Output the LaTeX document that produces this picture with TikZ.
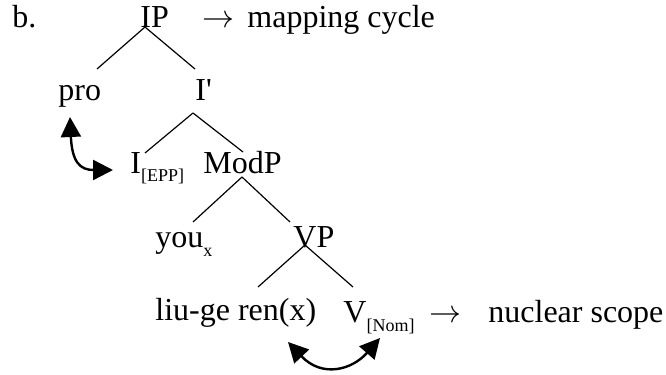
\RequirePackage{fix-cm}
\documentclass[tikz,border=0pt]{standalone}
\usepackage{fontspec}
\setmainfont{Liberation Serif}
\usetikzlibrary{arrows.meta,calc}
\newcommand{\lowsub}[1]{\raisebox{-4.5pt}{\fontsize{9}{9}\selectfont #1}}
\tikzset{
  word/.style={anchor=base west, inner sep=0pt, font=\fontsize{16}{19}\selectfont},
  branch/.style={line width=0.6pt},
  move/.style={line width=1.2pt, {Triangle[length=10pt,width=10pt]}-{Triangle[length=10pt,width=10pt]}}
}
\begin{document}
\begin{tikzpicture}[x=0.5pt, y=-0.5pt]
\useasboundingbox (0,0) rectangle (666,375);
% words of the tree
\node[word] (lab) at (12,27) {b.};
\node[word] (IP) at (140,27) {IP};
\node[word] (arrA) at (202,27) {$\rightarrow$};
\node[word] (cycle) at (247,27) {mapping cycle};
\node[word] (pro) at (58,100) {pro};
\node[word] (Ibar) at (195,100) {I\textquotesingle};
\node[word] (Iepp) at (130,173) {I\lowsub{[EPP]}};
\node[word] (ModP) at (203,173) {ModP};
\node[word] (you) at (155,248) {you\lowsub{x}};
\node[word] (VP) at (293,248) {VP};
\node[word] (liu) at (155,321) {liu-ge ren(x)};
\node[word] (Vnom) at (343,322) {V\lowsub{[Nom]}};
\node[word] (arrB) at (429,322) {$\rightarrow$};
\node[word] (scope) at (488,322) {nuclear scope};
% branches
\draw[branch] ($(IP.base west)+(5,0)$) -- ($(pro.base west)+(39,-31)$);
\draw[branch] ($(IP.base west)+(5,0)$) -- ($(Ibar.base west)+(0,-31)$);
\draw[branch] ($(Ibar.base west)+(-2,13)$) -- ($(Iepp.base west)+(15,-20)$);
\draw[branch] ($(Ibar.base west)+(-2,13)$) -- ($(ModP.base west)+(40,-21)$);
\draw[branch] ($(ModP.base west)+(39,4)$) -- ($(you.base west)+(38,-26)$);
\draw[branch] ($(ModP.base west)+(39,4)$) -- ($(VP.base west)+(-3,-26)$);
\draw[branch] ($(VP.base west)+(12,-3)$) -- ($(liu.base west)+(103,-34)$);
\draw[branch] ($(VP.base west)+(12,-3)$) -- ($(Vnom.base west)+(10,-35)$);
% movement arrows
\draw[move] ($(pro.base west)+(12,17)$) .. controls ($(pro.base west)+(14,62)$) and ($(Iepp.base west)+(-50,-3)$) .. ($(Iepp.base west)+(-17,-3)$);
\draw[move] ($(liu.base west)+(133,21)$) .. controls ($(liu.base west)+(167,57)$) and ($(Vnom.base west)+(9,48)$) .. ($(Vnom.base west)+(37,16)$);
\end{tikzpicture}
\end{document}
